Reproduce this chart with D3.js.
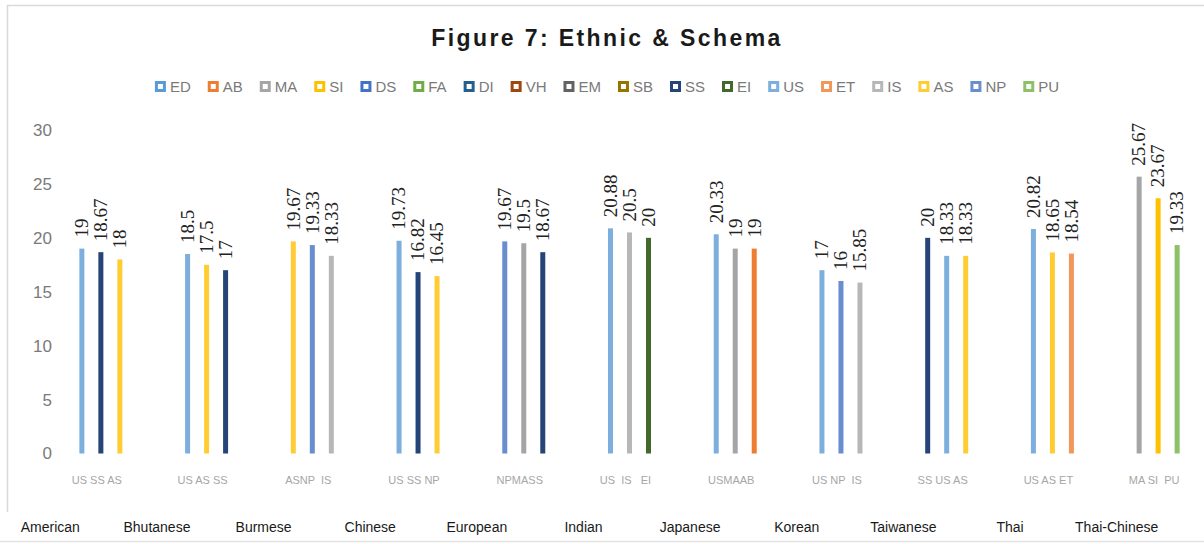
<!DOCTYPE html>
<html>
<head>
<meta charset="utf-8">
<script src="https://cdn.jsdelivr.net/npm/d3@7"></script>
<style>
  html, body { margin: 0; padding: 0; background: #fff; }
  svg { display: block; }
</style>
</head>
<body>
<svg id="chart" width="1204" height="544"></svg>
<script>
// ---------- data ----------
const categories = ["American","Bhutanese","Burmese","Chinese","European","Indian","Japanese","Korean","Taiwanese","Thai","Thai-Chinese"];
const subLabels = ["US SS AS","US AS SS","ASNP  IS","US SS NP","NPMASS","US  IS   EI","USMAAB","US NP  IS","SS US AS","US AS ET","MA SI  PU"];
const barSeries = [
  ["US","SS","AS"],
  ["US","AS","SS"],
  ["AS","NP","IS"],
  ["US","SS","AS"],
  ["NP","MA","SS"],
  ["US","IS","EI"],
  ["US","MA","AB"],
  ["US","NP","IS"],
  ["SS","US","AS"],
  ["US","AS","ET"],
  ["MA","SI","PU"]
];
const barValues = [
  [19, 18.67, 18],
  [18.5, 17.5, 17],
  [19.67, 19.33, 18.33],
  [19.73, 16.82, 16.45],
  [19.67, 19.5, 18.67],
  [20.88, 20.5, 20],
  [20.33, 19, 19],
  [17, 16, 15.85],
  [20, 18.33, 18.33],
  [20.82, 18.65, 18.54],
  [25.67, 23.67, 19.33]
];
const legendSeries = ["ED","AB","MA","SI","DS","FA","DI","VH","EM","SB","SS","EI","US","ET","IS","AS","NP","PU"];
const seriesColors = ["#5B9BD5","#ED7D31","#A5A5A5","#FFC000","#4472C4","#70AD47","#255E91","#9E480E","#636363","#997300","#264478","#43682B","#7CAFDD","#F1975A","#B7B7B7","#FFCD33","#698ED0","#8CC168"];
const yTicks = [0,5,10,15,20,25,30];
const titleText = "Figure 7: Ethnic & Schema";

// ---------- layout ----------
const svg = d3.select("#chart");
const color = d3.scaleOrdinal().domain(legendSeries).range(seriesColors);

// frame
svg.append("path")
  .attr("d", "M7.5,512 V5.5 H1204")
  .attr("fill","none").attr("stroke","#d9d9d9").attr("stroke-width",1.5);
svg.append("line").attr("x1",0).attr("x2",1204).attr("y1",541.5).attr("y2",541.5)
  .attr("stroke","#e3e3e3").attr("stroke-width",1.5);

// title
svg.append("text")
  .attr("x", 607).attr("y", 46)
  .attr("text-anchor","middle")
  .attr("font-family","Liberation Sans, Arial, sans-serif")
  .attr("font-weight","bold")
  .attr("font-size",23)
  .attr("letter-spacing","2.4px")
  .attr("fill","#1a1a1a")
  .text(titleText);

// scales
const y = d3.scaleLinear().domain([0,30]).range([453.5,130]);
const x = d3.scaleBand().domain(categories).range([44,1207]);
const sub = d3.scaleBand().domain([0,1,2]).range([-24.5,32.5]);
const xBottom = d3.scaleBand().domain(categories).range([-3,1170]);

// y axis
const yAxis = d3.axisLeft(y).tickValues(yTicks).tickSize(0).tickPadding(8);
const gy = svg.append("g").attr("transform","translate(60,0)").call(yAxis);
gy.select(".domain").remove();
gy.selectAll("text")
  .attr("font-family","Liberation Sans, Arial, sans-serif")
  .attr("font-size",17)
  .attr("fill","#7a7a7a");

// bars
const barData = [];
categories.forEach((c,i) => {
  barValues[i].forEach((v,j) => {
    barData.push({cat:c, idx:j, series:barSeries[i][j], value:v});
  });
});
const cx = d => x(d.cat) + x.bandwidth()/2 + sub(d.idx) + sub.bandwidth()/2;

svg.append("g").selectAll("rect").data(barData).join("rect")
  .attr("x", d => cx(d) - 2.5)
  .attr("width", 5)
  .attr("y", d => y(d.value))
  .attr("height", d => y(0) - y(d.value))
  .attr("fill", d => color(d.series));

// value labels
svg.append("g").selectAll("text").data(barData).join("text")
  .attr("transform", d => `translate(${cx(d)},${y(d.value) - 11}) rotate(-90)`)
  .attr("dy","0.33em")
  .attr("text-anchor","start")
  .attr("font-family","Liberation Serif, Times New Roman, serif")
  .attr("font-size",19)
  .attr("fill","#222")
  .text(d => d.value);

// sub labels (schema codes)
svg.append("g").selectAll("text").data(categories).join("text")
  .attr("x", (d) => x(d) + x.bandwidth()/2)
  .attr("y", 484)
  .attr("text-anchor","middle")
  .attr("font-family","Liberation Sans, Arial, sans-serif")
  .attr("font-size",11)
  .attr("fill","#a6a6a6")
  .style("white-space","pre")
  .attr("xml:space","preserve")
  .text((d,i) => subLabels[i]);

// category labels row
svg.append("g").selectAll("text").data(categories).join("text")
  .attr("x", d => xBottom(d) + xBottom.bandwidth()/2)
  .attr("y", 532)
  .attr("text-anchor","middle")
  .attr("font-family","Liberation Sans, Arial, sans-serif")
  .attr("font-size",14)
  .attr("fill","#1a1a1a")
  .text(d => d);

// legend
const legend = svg.append("g");
const items = legend.selectAll("g").data(legendSeries).join("g");
items.append("rect")
  .attr("x",1.5).attr("y",-3.5).attr("width",8).attr("height",8)
  .attr("fill","#fff")
  .attr("stroke", d => color(d))
  .attr("stroke-width",3);
items.append("text")
  .attr("x",15).attr("y",0).attr("dy","0.38em")
  .attr("font-family","Liberation Sans, Arial, sans-serif")
  .attr("font-size",15)
  .attr("fill","#7a7a7a")
  .text(d => d);
let off = 0;
const gap = 17;
const widths = [];
items.each(function(){
  const tw = d3.select(this).select("text").node().getComputedTextLength();
  widths.push(15 + tw);
});
const total = d3.sum(widths) + gap*(widths.length-1);
let start = 607 - total/2;
items.attr("transform", (d,i) => {
  const t = `translate(${start + off},86)`;
  off += widths[i] + gap;
  return t;
});
</script>
</body>
</html>
